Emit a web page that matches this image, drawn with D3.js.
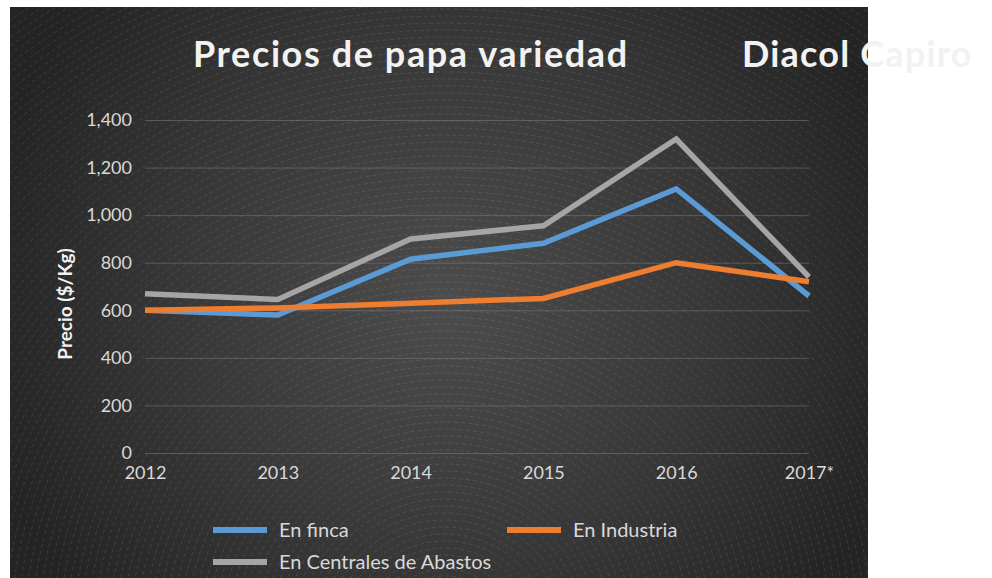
<!DOCTYPE html>
<html>
<head>
<meta charset="utf-8">
<style>
  body { margin: 0; background: #fff; }
  svg { display: block; }
  text { font-family: Lato, "Open Sans", sans-serif; }
</style>
<script src="https://d3js.org/d3.v7.min.js"></script>
</head>
<body>
<svg width="992" height="578"></svg>
<script>
var years = ["2012", "2013", "2014", "2015", "2016", "2017*"];
var enFinca = [600, 580, 815, 882, 1110, 660];
var enIndustria = [600, 610, 630, 650, 800, 720];
var enCentrales = [670, 645, 900, 955, 1320, 740];
var yTicks = [0, 200, 400, 600, 800, 1000, 1200, 1400];

var series = [
  {name: "En finca", values: enFinca, color: "#5b9bd5"},
  {name: "En Industria", values: enIndustria, color: "#ed7d31"},
  {name: "En Centrales de Abastos", values: enCentrales, color: "#a5a5a5"}
];

var svg = d3.select("svg");
var defs = svg.append("defs");

// background panel with a soft radial glow
var grad = defs.append("radialGradient").attr("id", "glow")
  .attr("gradientUnits", "userSpaceOnUse")
  .attr("cx", 445).attr("cy", 300).attr("r", 470);
grad.append("stop").attr("offset", "0%").attr("stop-color", "#4c4c4c");
grad.append("stop").attr("offset", "55%").attr("stop-color", "#383838");
grad.append("stop").attr("offset", "100%").attr("stop-color", "#242424");

defs.append("clipPath").attr("id", "panelClip")
  .append("rect").attr("x", 10).attr("y", 7).attr("width", 858).attr("height", 571);

svg.append("rect")
  .attr("x", 10).attr("y", 7).attr("width", 858).attr("height", 571)
  .attr("fill", "url(#glow)");

// faint concentric dashed rings
var rings = svg.append("g").attr("clip-path", "url(#panelClip)");
rings.selectAll("circle")
  .data(d3.range(8, 760, 7))
  .enter().append("circle")
  .attr("cx", 445).attr("cy", 640)
  .attr("r", function(d) { return d; })
  .attr("fill", "none")
  .attr("stroke", "#ffffff")
  .attr("stroke-opacity", 0.13)
  .attr("stroke-width", 0.8)
  .attr("stroke-dasharray", "4,3");

var x = d3.scalePoint().domain(years).range([145, 809]);
var y = d3.scaleLinear().domain([0, 1400]).range([453, 120]);

// gridlines
svg.append("g")
  .attr("transform", "translate(145,0)")
  .call(d3.axisLeft(y).tickValues(yTicks).tickSize(-664).tickFormat(""))
  .call(function(g) {
    g.select(".domain").remove();
    g.selectAll("line").attr("stroke", "#8a8a8a").attr("stroke-opacity", 0.45);
  });

// y axis labels
svg.append("g")
  .attr("transform", "translate(145,0)")
  .call(d3.axisLeft(y).tickValues(yTicks).tickSize(0).tickPadding(13).tickFormat(d3.format(",")))
  .call(function(g) {
    g.select(".domain").remove();
    g.selectAll("text").attr("fill", "#d9d9d9")
      .style("font-size", "18px").style("font-family", "Lato, sans-serif");
  });

// x axis labels
svg.append("g")
  .attr("transform", "translate(0,453)")
  .call(d3.axisBottom(x).tickSize(0).tickPadding(13))
  .call(function(g) {
    g.select(".domain").remove();
    g.selectAll("text").attr("fill", "#d9d9d9")
      .style("font-size", "18px").style("font-family", "Lato, sans-serif");
  });

// lines
var line = d3.line()
  .x(function(d, i) { return x(years[i]); })
  .y(function(d) { return y(d); });

svg.selectAll(".serie")
  .data(series)
  .enter().append("path")
  .attr("class", "serie")
  .attr("d", function(d) { return line(d.values); })
  .attr("fill", "none")
  .attr("stroke", function(d) { return d.color; })
  .attr("stroke-width", 5.5)
  .attr("stroke-linejoin", "miter");

// y axis title
svg.append("text")
  .attr("transform", "translate(72,304) rotate(-90)")
  .attr("text-anchor", "middle")
  .attr("fill", "#f2f2f2")
  .style("font-size", "19px").style("font-weight", "bold")
  .text("Precio ($/Kg)");

// title
svg.append("text")
  .attr("x", 193).attr("y", 67)
  .attr("fill", "#f2f2f2")
  .style("font-size", "36px").style("font-weight", "bold")
  .style("letter-spacing", "1.6px")
  .text("Precios de papa variedad");
svg.append("text")
  .attr("x", 742).attr("y", 67)
  .attr("fill", "#f2f2f2")
  .style("font-size", "36px").style("font-weight", "bold")
  .style("letter-spacing", "1.2px")
  .text("Diacol Capiro");

// legend
var legPos = [[213, 530], [507, 530], [213, 562]];
var leg = svg.selectAll(".leg")
  .data(series)
  .enter().append("g")
  .attr("class", "leg")
  .attr("transform", function(d, i) { return "translate(" + legPos[i][0] + "," + legPos[i][1] + ")"; });
leg.append("line")
  .attr("x1", 0).attr("x2", 54)
  .attr("stroke", function(d) { return d.color; })
  .attr("stroke-width", 6);
leg.append("text")
  .attr("x", 66).attr("dy", "0.35em")
  .attr("fill", "#d9d9d9")
  .style("font-size", "20px")
  .text(function(d) { return d.name; });
</script>
</body>
</html>
